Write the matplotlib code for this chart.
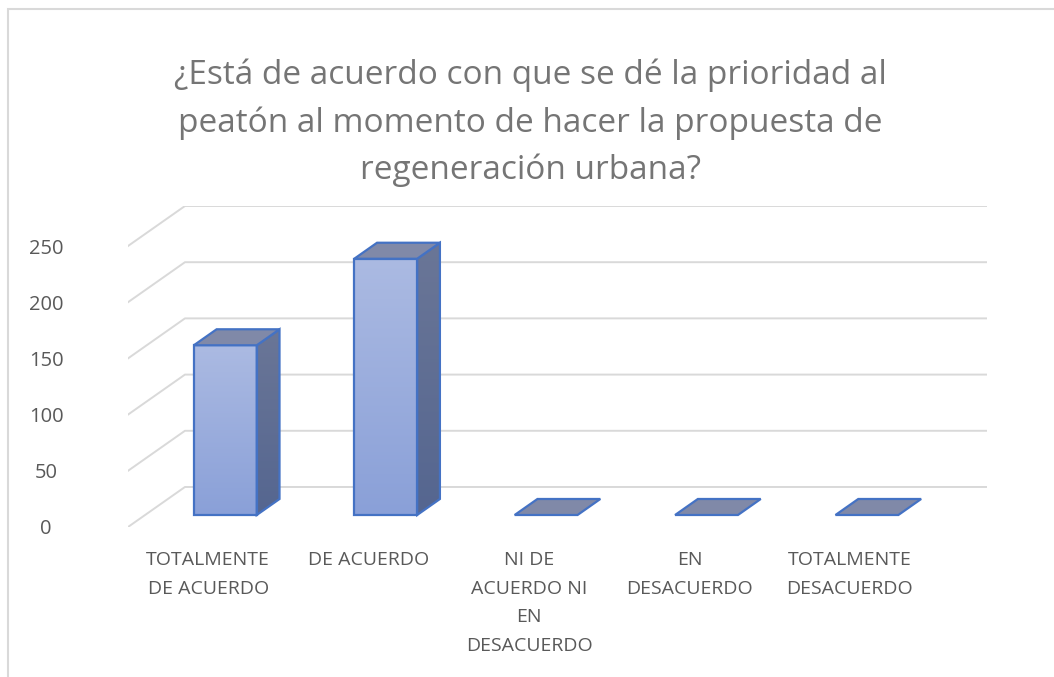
import matplotlib.pyplot as plt
import numpy as np
from matplotlib.patches import Polygon, Rectangle
from matplotlib.colors import LinearSegmentedColormap

categories = ["TOTALMENTE\nDE ACUERDO", "DE ACUERDO", "NI DE\nACUERDO NI\nEN\nDESACUERDO",
              "EN\nDESACUERDO", "TOTALMENTE\nDESACUERDO"]
values = [151, 228, 0, 0, 0]
yticks = [0, 50, 100, 150, 200, 250]
title = ("¿Está de acuerdo con que se dé la prioridad al\n"
         "peatón al momento de hacer la propuesta de\n"
         "regeneración urbana?")

# fake 3D (oblique) : depth shift of the back wall, in data units
DX = 0.355
DY = 35.6
d0, d1 = 0.3, 0.7   # bar front / back depth
hw = 0.196          # half bar width

front_cm = LinearSegmentedColormap.from_list("front", ["#8aa0d8", "#abbae2"])
side_cm = LinearSegmentedColormap.from_list("side", ["#556690", "#6a7697"])
edge = "#4472c4"

plt.rcParams['font.family'] = ['Open Sans', 'DejaVu Sans']
fig = plt.figure(figsize=(10.54, 6.77), dpi=100)
ax = fig.add_axes([128/1054, 150/677, 859/1054, 321/677])

# back wall + side wall gridlines
for v in yticks:
    ax.plot([-0.5, -0.5 + DX, 4.5 + DX], [v, v + DY, v + DY], color="#d9d9d9", lw=1.4, zorder=1)

grad = np.linspace(0, 1, 100).reshape(-1, 1)

for i, v in enumerate(values):
    x0 = i - hw + d0*DX
    x1 = i + hw + d0*DX
    yb = d0*DY
    if v > 0:
        # front face
        rect = Rectangle((x0, yb), x1 - x0, v, fc="none", ec=edge, lw=1.6, zorder=4)
        ax.add_patch(rect)
        im = ax.imshow(grad, extent=[x0, x1, yb, yb + v], origin="lower", cmap=front_cm,
                       aspect="auto", zorder=3)
        im.set_clip_path(rect)
        # side face
        side = Polygon([(x1, yb), (x1 + (d1-d0)*DX, yb + (d1-d0)*DY),
                        (x1 + (d1-d0)*DX, yb + (d1-d0)*DY + v), (x1, yb + v)],
                       closed=True, fc="none", ec=edge, lw=1.6, zorder=4)
        ax.add_patch(side)
        im2 = ax.imshow(grad, extent=[x1, x1 + (d1-d0)*DX, yb, yb + (d1-d0)*DY + v],
                        origin="lower", cmap=side_cm, aspect="auto", zorder=3)
        im2.set_clip_path(side)
    # top face
    top = Polygon([(x0, yb + v), (x1, yb + v), (x1 + (d1-d0)*DX, yb + (d1-d0)*DY + v),
                   (x0 + (d1-d0)*DX, yb + (d1-d0)*DY + v)],
                  closed=True, fc="#8089a8", ec=edge, lw=1.6, zorder=5)
    ax.add_patch(top)

ax.set_xlim(-0.5, 4.5 + DX)
ax.set_ylim(0, 250 + DY)
ax.set_yticks(yticks)
ax.set_yticklabels([str(t) for t in yticks], ha="center")
ax.set_xticks(range(len(categories)))
ax.set_xticklabels(categories, linespacing=1.78)
ax.tick_params(axis="y", length=0, pad=59, labelsize=14.5, labelcolor="#595959")
ax.tick_params(axis="x", length=0, pad=17, labelsize=14, labelcolor="#595959")
for s in ax.spines.values():
    s.set_visible(False)
ax.patch.set_alpha(0)

fig.text(0.503, 0.818, title, ha="center", va="center", fontsize=24, color="#757575",
         linespacing=1.55)

# chart area border
fig.patches.append(Rectangle((8/1054, -0.1), 1.2, 1 - 9/677 + 0.1, transform=fig.transFigure,
                             fill=False, ec="#d9d9d9", lw=1.5))

fig.savefig("out.png", dpi=100)
